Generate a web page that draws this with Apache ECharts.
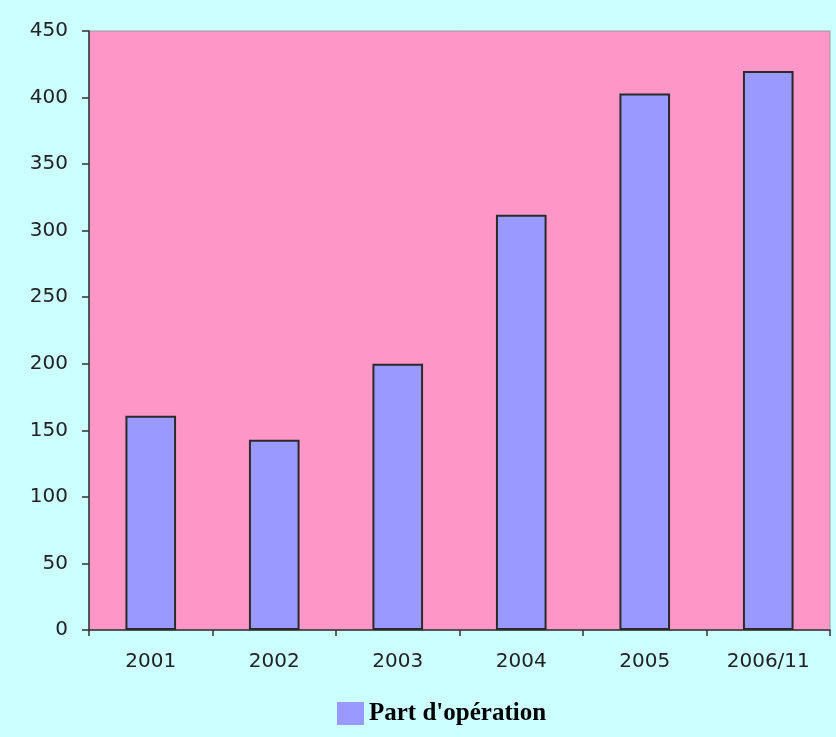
<!DOCTYPE html>
<html>
<head>
<meta charset="utf-8">
<script src="https://cdn.jsdelivr.net/npm/echarts@6/dist/echarts.min.js"></script>
<style>
  html, body { margin: 0; padding: 0; background: #ccffff; }
  #chart { width: 836px; height: 737px; }
</style>
</head>
<body>
<div id="chart"></div>
<script>
// Années et valeurs de la part d'opération
const categories = ['2001', '2002', '2003', '2004', '2005', '2006/11'];
const partOperation = [161, 143, 200, 312, 403, 420];
const seriesName = "Part d'opération";

const chart = echarts.init(document.getElementById('chart'));
chart.setOption({
  backgroundColor: '#ccffff',
  animation: false,
  grid: {
    left: 89, right: 6, top: 31, bottom: 107,
    show: true,
    backgroundColor: '#ff96c8',
    borderColor: '#9a9a9a',
    borderWidth: 1
  },
  legend: {
    top: 701,
    left: 337,
    padding: 0,
    itemWidth: 27,
    itemHeight: 23,
    itemGap: 15,
    icon: 'rect',
    itemStyle: { borderWidth: 0 },
    textStyle: {
      fontFamily: 'Liberation Serif',
      fontWeight: 'bold',
      fontSize: 25,
      color: '#000'
    },
    data: [seriesName]
  },
  xAxis: {
    type: 'category',
    data: categories,
    axisLine: { lineStyle: { color: '#333', width: 1.5 } },
    axisTick: { show: true, length: 6, lineStyle: { color: '#333', width: 1.5 } },
    axisLabel: { margin: 22, fontFamily: 'DejaVu Sans', fontSize: 20, color: '#222' }
  },
  yAxis: {
    type: 'value',
    min: 0, max: 450, interval: 50,
    axisLine: { show: true, lineStyle: { color: '#333', width: 1.5 } },
    axisTick: { show: true, length: 7, lineStyle: { color: '#333', width: 1.5 } },
    splitLine: { show: false },
    axisLabel: { margin: 21, fontFamily: 'DejaVu Sans', fontSize: 20, color: '#222' }
  },
  series: [{
    name: seriesName,
    type: 'bar',
    data: partOperation,
    barWidth: '41%',
    itemStyle: {
      color: '#9999ff',
      borderColor: '#2a2a2a',
      borderWidth: 2
    }
  }]
});
</script>
</body>
</html>
